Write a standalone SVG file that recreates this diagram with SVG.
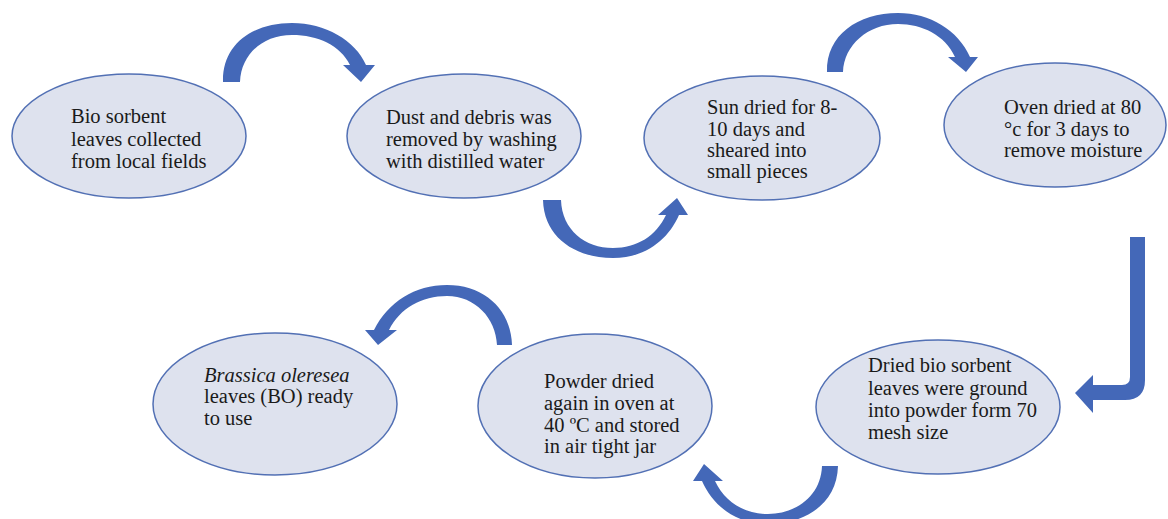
<svg xmlns="http://www.w3.org/2000/svg" width="1168" height="519" viewBox="0 0 1168 519">
<style>
.node ellipse{fill:#dee2ee;stroke:#5270b4;stroke-width:1.5}
.node text{font-size:20.5px;fill:#1a1a1a}
.arr{fill:#4468b8}
</style>
<rect width="1168" height="519" fill="#ffffff"/>
<g id="connectors">
<path class="arr" d="M223 82 C222 45 252 23 292 23 C325 23 355 40 366 65 L375 65 L361 82 L343 65 L350 65 C340 45 318 35 292 35 C262 35 241 55 240 82 Z"/>
<path class="arr" d="M827 72 C826 35 858 13 898 13 C930 13 958 30 970 57 L978 57 L966 72 L948 57 L955 57 C945 35 922 24 898 24 C868 24 844 45 843 72 Z"/>
<path class="arr" d="M543 200 C544 238 576 258 613 258 C645 258 668 240 679 215 L688 215 L677 198 L658 215 L666 215 C656 236 637 248 613 248 C585 248 562 230 561 200 Z"/>
<path class="arr" d="M1130 237 L1145 237 L1145 380 Q1145 400 1125 400 L1093 400 L1093 413 L1075 393 L1093 375 L1093 385 L1122 385 Q1130 385 1130 377 Z"/>
<path class="arr" d="M838 466 C837 504 805 524 768 524 C736 524 713 506 702 481 L693 481 L704 464 L723 481 L715 481 C725 502 744 514 768 514 C796 514 821 496 822 466 Z"/>
<path class="arr" d="M512 345 C511 310 485 285 447 285 C415 285 388 302 374 330 L365 330 L378 345 L397 330 L389 330 C400 308 422 296 447 296 C475 296 496 318 497 345 Z"/>
</g>
<g id="n1" class="node" font-family="Liberation Serif, DejaVu Serif, serif"><ellipse cx="129" cy="136" rx="117" ry="62"/>
<text x="71" y="123">Bio sorbent</text><text x="71" y="146">leaves collected</text><text x="71" y="168">from local fields</text></g>
<g id="n2" class="node" font-family="Liberation Serif, DejaVu Serif, serif"><ellipse cx="464" cy="136" rx="117" ry="62"/>
<text x="386" y="124">Dust and debris was</text><text x="386" y="146">removed by washing</text><text x="386" y="168">with distilled water</text></g>
<g id="n3" class="node" font-family="Liberation Serif, DejaVu Serif, serif"><ellipse cx="762" cy="138" rx="118" ry="62"/>
<text x="707" y="114">Sun dried for 8-</text><text x="707" y="136">10 days and</text><text x="707" y="157">sheared into</text><text x="707" y="178">small pieces</text></g>
<g id="n4" class="node" font-family="Liberation Serif, DejaVu Serif, serif"><ellipse cx="1055" cy="125" rx="111" ry="62"/>
<text x="1004" y="114">Oven dried at 80</text><text x="1004" y="136">°c for 3 days to</text><text x="1004" y="157">remove moisture</text></g>
<g id="n5" class="node" font-family="Liberation Serif, DejaVu Serif, serif"><ellipse cx="938" cy="407" rx="122" ry="67"/>
<text x="868" y="372">Dried bio sorbent</text><text x="868" y="395">leaves were ground</text><text x="868" y="417">into powder form 70</text><text x="868" y="439">mesh size</text></g>
<g id="n6" class="node" font-family="Liberation Serif, DejaVu Serif, serif"><ellipse cx="595" cy="406" rx="117" ry="72"/>
<text x="544" y="388">Powder dried</text><text x="544" y="410">again in oven at</text><text x="544" y="432">40 ºC and stored</text><text x="544" y="453">in air tight jar</text></g>
<g id="n7" class="node" font-family="Liberation Serif, DejaVu Serif, serif"><ellipse cx="275" cy="404" rx="122" ry="71"/>
<text x="204" y="382" font-style="italic">Brassica oleresea</text><text x="204" y="403">leaves (BO) ready</text><text x="204" y="425">to use</text></g>
</svg>
